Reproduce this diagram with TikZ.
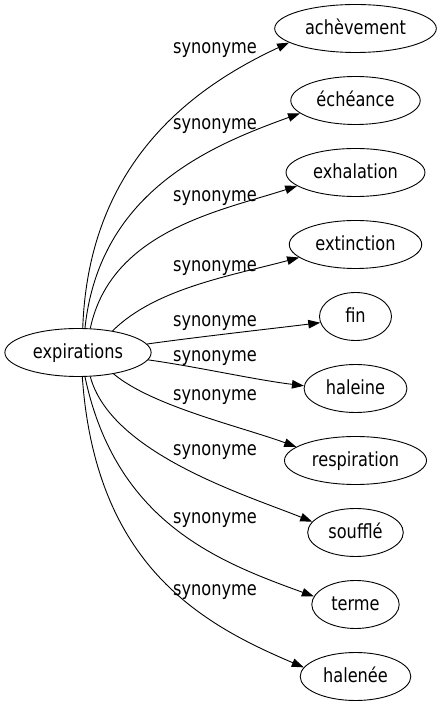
\documentclass[tikz,border=0pt]{standalone}
\usepackage{fontspec}
\newfontfamily\graphfont[FakeStretch=0.83]{DejaVu Sans}
\usetikzlibrary{shapes}
\usetikzlibrary{positioning, arrows.meta}

\begin{document}
\begin{tikzpicture}[x=1pt, y=1pt, >={Triangle[length=12pt, width=8.5pt]},
    word/.style={draw, ellipse, line width=0.9pt, minimum height=48pt, minimum width=72pt,
        inner xsep=6.7pt, inner ysep=0pt, text height=16pt, text depth=3pt,
        font=\graphfont\fontsize{19.5}{23}\selectfont},
    rel/.style={inner sep=0pt, text height=14.5pt, text depth=4.5pt,
        font=\graphfont\fontsize{19.5}{23}\selectfont},
    syn/.style={->, line width=0.9pt}]
    \useasboundingbox (0,0) rectangle (442,707);

    % Source word on the left
    \node[word] (X) at (78,354.5) {expirations};

    % Synonyms, one column on the right
    \node[word] (A) at (355.5,678.5) {achèvement};
    \node[word] (B) at (355.5,606.5) {échéance};
    \node[word] (C) at (355.5,534.5) {exhalation};
    \node[word] (D) at (355.5,462.5) {extinction};
    \node[word] (E) at (355.5,390.5) {fin};
    \node[word] (F) at (355.5,318.5) {haleine};
    \node[word] (G) at (355.5,246.5) {respiration};
    \node[word] (H) at (355.5,174.5) {soufflé};
    \node[word] (I) at (355.5,102.5) {terme};
    \node[word] (J) at (355.5,30.5) {halenée};

    % Edges with arrows
    \draw[syn] (X.79) .. controls +(88:170) and +(205:100) .. (A.192);
    \draw[syn] (X.74) .. controls +(84:140) and +(200:90) .. (B.193);
    \draw[syn] (X.63) .. controls +(78:100) and +(198:80) .. (C.193);
    \draw[syn] (X.32) .. controls +(45:60) and +(195:70) .. (D.193);
    \draw[syn] (X.7) .. controls +(8:50) and +(187:50) .. (E.190);
    \draw[syn] (X.-6) .. controls +(-8:50) and +(173:50) .. (F.177);
    \draw[syn] (X.-31) .. controls +(-40:50) and +(160:60) .. (G.167);
    \draw[syn] (X.-63) .. controls +(-75:80) and +(158:70) .. (H.166);
    \draw[syn] (X.-74) .. controls +(-78:150) and +(160:100) .. (I.169);
    \draw[syn] (X.-80) .. controls +(-86:190) and +(157:110) .. (J.170);

    % Edge labels
    \node[rel] (l1) at (215,658) {synonyme};
    \node[rel] (l2) at (215,582) {synonyme};
    \node[rel] (l3) at (215,510) {synonyme};
    \node[rel] (l4) at (215,440) {synonyme};
    \node[rel] (l5) at (215,385) {synonyme};
    \node[rel] (l6) at (215,350) {synonyme};
    \node[rel] (l7) at (215,311) {synonyme};
    \node[rel] (l8) at (215,256) {synonyme};
    \node[rel] (l9) at (215,188) {synonyme};
    \node[rel] (l10) at (215,116) {synonyme};

\end{tikzpicture}
\end{document}
